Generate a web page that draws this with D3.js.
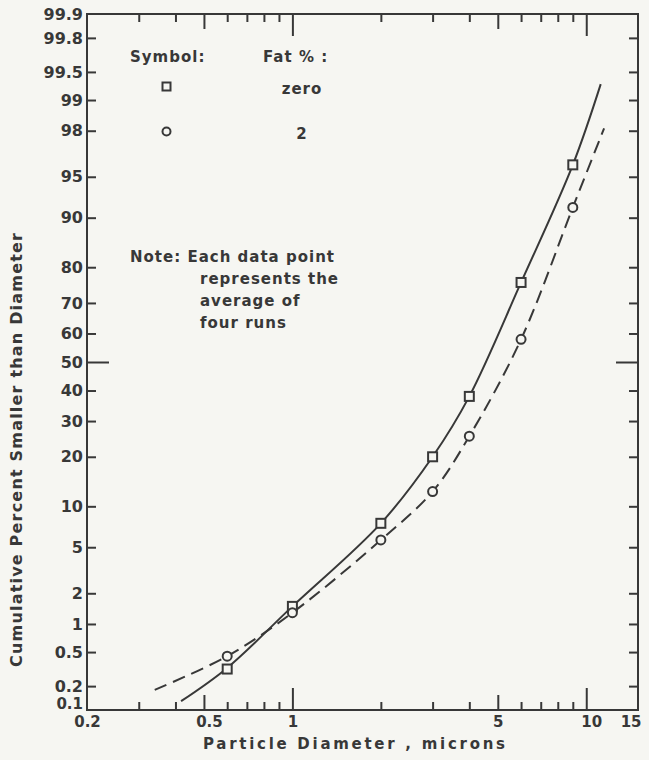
<!DOCTYPE html>
<html><head><meta charset="utf-8">
<script src="https://cdn.jsdelivr.net/npm/d3@7"></script>
<style>
html,body{margin:0;padding:0;background:#f6f6f2;}
svg{display:block;}
text{font-family:"DejaVu Sans",sans-serif;font-weight:bold;fill:#383838;}
</style></head><body>
<svg id="chart" width="649" height="760"></svg>
<script>
// ---- data ----
const diameters = [0.6, 1, 2, 3, 4, 6, 9];
const fatZero = [0.32, 1.5, 7.6, 20, 38, 76, 96];
const fatTwo = [0.45, 1.3, 5.7, 12.5, 25.5, 58, 91.5];
const curveZeroX = [0.418, 0.6, 1, 2, 3, 4, 6, 9, 11.2];
const curveZeroP = [0.13, 0.33, 1.5, 7.6, 20, 38, 76, 96, 99.32];
const curveTwoX = [0.34, 0.6, 1, 2, 3, 4, 6, 9, 11.5];
const curveTwoP = [0.18, 0.45, 1.3, 5.7, 12.5, 25.5, 58, 91.5, 98.1];
const xLabelTicks = [0.2, 0.5, 1, 5, 10, 15];
const xMinorTicks = [0.3, 0.4, 0.6, 0.7, 0.8, 0.9, 2, 3, 4, 6, 7, 8, 9];
const xMidTicks = [0.5, 5];
const xMajorTicks = [1, 10];
const yLabelTicks = [0.1, 0.2, 0.5, 1, 2, 5, 10, 20, 30, 40, 50, 60, 70, 80, 90, 95, 98, 99, 99.5, 99.8, 99.9];
const yMinorTicks = [0.2, 0.5, 1, 2, 5, 10, 20, 30, 40, 60, 70, 80, 90, 95, 98, 99, 99.5, 99.8];
const yMajorTicks = [50];
const legendSymbols = ["square", "circle"];
const legendLabels = ["zero", "2"];
const noteLines = ["Note: Each data point", "represents the", "average of", "four runs"];

// ---- normal quantile (probability paper) ----
function probit(p){
  const a=[-3.969683028665376e+01,2.209460984245205e+02,-2.759285104469687e+02,1.383577518672690e+02,-3.066479806614716e+01,2.506628277459239e+00];
  const b=[-5.447609879822406e+01,1.615858368580409e+02,-1.556989798598866e+02,6.680131188771972e+01,-1.328068155288572e+01];
  const c=[-7.784894002430293e-03,-3.223964580411365e-01,-2.400758277161838e+00,-2.549732539343734e+00,4.374664141464968e+00,2.938163982698783e+00];
  const d=[7.784695709041462e-03,3.224671290700398e-01,2.445134137142996e+00,3.754408661907416e+00];
  const pl=0.02425, ph=1-pl; let q,r;
  if(p<pl){q=Math.sqrt(-2*Math.log(p));return (((((c[0]*q+c[1])*q+c[2])*q+c[3])*q+c[4])*q+c[5])/((((d[0]*q+d[1])*q+d[2])*q+d[3])*q+1);}
  if(p<=ph){q=p-0.5;r=q*q;return (((((a[0]*r+a[1])*r+a[2])*r+a[3])*r+a[4])*r+a[5])*q/(((((b[0]*r+b[1])*r+b[2])*r+b[3])*r+b[4])*r+1);}
  q=Math.sqrt(-2*Math.log(1-p));return -(((((c[0]*q+c[1])*q+c[2])*q+c[3])*q+c[4])*q+c[5])/((((d[0]*q+d[1])*q+d[2])*q+d[3])*q+1);
}

const ink = "#383838", paper = "#f6f6f2";
const m = {left: 87, top: 14, right: 11, bottom: 50};
const W = 649 - m.left - m.right, H = 760 - m.top - m.bottom;
const svg = d3.select("#chart");
svg.append("rect").attr("width",649).attr("height",760).attr("fill",paper);
const g = svg.append("g").attr("transform",`translate(${m.left},${m.top})`);

const x = d3.scaleLog().domain([0.2, 15]).range([0, W]);
const yz = d3.scaleLinear().domain([probit(0.001), probit(0.999)]).range([H, 0]);
const y = p => yz(probit(p/100));
const zs = arr => arr.map(p => probit(p/100));

function styleAxis(sel){
  sel.select(".domain").remove();
  sel.selectAll(".tick line").attr("stroke", ink).attr("stroke-width", 2);
  sel.selectAll("text").attr("fill", ink).style("font-size","16px");
}
// ticks, inward on all sides
[[xMinorTicks,8],[xMidTicks,15],[xMajorTicks,22]].forEach(([vals,s])=>{
  g.append("g").attr("transform",`translate(0,${H})`)
    .call(d3.axisBottom(x).tickValues(vals).tickSize(-s).tickFormat("")).call(styleAxis);
  g.append("g")
    .call(d3.axisTop(x).tickValues(vals).tickSize(-s).tickFormat("")).call(styleAxis);
});
[[yMinorTicks,9],[yMajorTicks,22]].forEach(([vals,s])=>{
  g.append("g")
    .call(d3.axisLeft(yz).tickValues(zs(vals)).tickSize(-s).tickFormat("")).call(styleAxis);
  g.append("g").attr("transform",`translate(${W},0)`)
    .call(d3.axisRight(yz).tickValues(zs(vals)).tickSize(-s).tickFormat("")).call(styleAxis);
});
// labels
const xl = g.append("g").attr("transform",`translate(0,${H})`)
  .call(d3.axisBottom(x).tickValues(xLabelTicks).tickSize(0).tickPadding(0).tickFormat(d=>String(d)))
  .call(styleAxis);
xl.selectAll("text").attr("y", 17).attr("dy", null).style("font-size","15px")
  .attr("text-anchor", (d,i)=> i===xLabelTicks.length-1 ? "end" : "middle")
  .attr("dx", (d,i)=> i===xLabelTicks.length-1 ? 3 : (d===0.5 || d===10 ? 5 : 0));
const yl = g.append("g")
  .call(d3.axisLeft(yz).tickValues(zs(yLabelTicks)).tickSize(0).tickPadding(4)
    .tickFormat((d,i)=>String(yLabelTicks[i])))
  .call(styleAxis);
yl.selectAll("text").filter((d,i)=>i===0).attr("y", -6).style("font-size","15px");

// frame
g.append("rect").attr("width",W).attr("height",H).attr("fill","none")
  .attr("stroke",ink).attr("stroke-width",2);

// titles
svg.append("text").attr("x", 354).attr("y", 749).attr("text-anchor","middle")
  .attr("textLength", 302).attr("lengthAdjust","spacing")
  .style("font-size","15px").text("Particle  Diameter  ,  microns");
svg.append("text").attr("transform","translate(22,450) rotate(-90)").attr("text-anchor","middle")
  .attr("textLength", 434).attr("lengthAdjust","spacing")
  .style("font-size","16px").text("Cumulative  Percent  Smaller  than  Diameter");

// curves
const line = d3.line().x(d=>x(d[0])).y(d=>y(d[1])).curve(d3.curveCatmullRom.alpha(0.5));
g.append("path").datum(d3.zip(curveZeroX, curveZeroP)).attr("d", line)
  .attr("fill","none").attr("stroke",ink).attr("stroke-width",2);
g.append("path").datum(d3.zip(curveTwoX, curveTwoP)).attr("d", line)
  .attr("fill","none").attr("stroke",ink).attr("stroke-width",2).attr("stroke-dasharray","13,7");

// markers
g.selectAll(".sq").data(d3.zip(diameters, fatZero)).join("rect")
  .attr("x", d=>x(d[0])-4.5).attr("y", d=>y(d[1])-4.5).attr("width",9).attr("height",9)
  .attr("fill",paper).attr("stroke",ink).attr("stroke-width",2);
g.selectAll(".ci").data(d3.zip(diameters, fatTwo)).join("circle")
  .attr("cx", d=>x(d[0])).attr("cy", d=>y(d[1])).attr("r",4.5)
  .attr("fill",paper).attr("stroke",ink).attr("stroke-width",2);

// legend
svg.append("text").attr("x",130).attr("y",62).style("font-size","15px").style("letter-spacing","1px").text("Symbol:");
svg.append("text").attr("x",263).attr("y",62).style("font-size","15px").style("letter-spacing","1px").text("Fat %  :");
legendSymbols.forEach((s,i)=>{
  const cy = 86.5 + i*45;
  if(s==="square") svg.append("rect").attr("x",162.5).attr("y",cy-4).attr("width",8).attr("height",8)
    .attr("fill","none").attr("stroke",ink).attr("stroke-width",2);
  else svg.append("circle").attr("cx",166.5).attr("cy",cy).attr("r",4)
    .attr("fill","none").attr("stroke",ink).attr("stroke-width",2);
  svg.append("text").attr("x",302).attr("y",cy+7).attr("text-anchor","middle")
    .style("font-size","15px").style("letter-spacing","1px").text(legendLabels[i]);
});
// note
noteLines.forEach((t,i)=>{
  svg.append("text").attr("x", i===0 ? 130 : 200).attr("y", 262 + i*22)
    .style("font-size","15px").style("letter-spacing","1px").text(t);
});
</script>
</body></html>
